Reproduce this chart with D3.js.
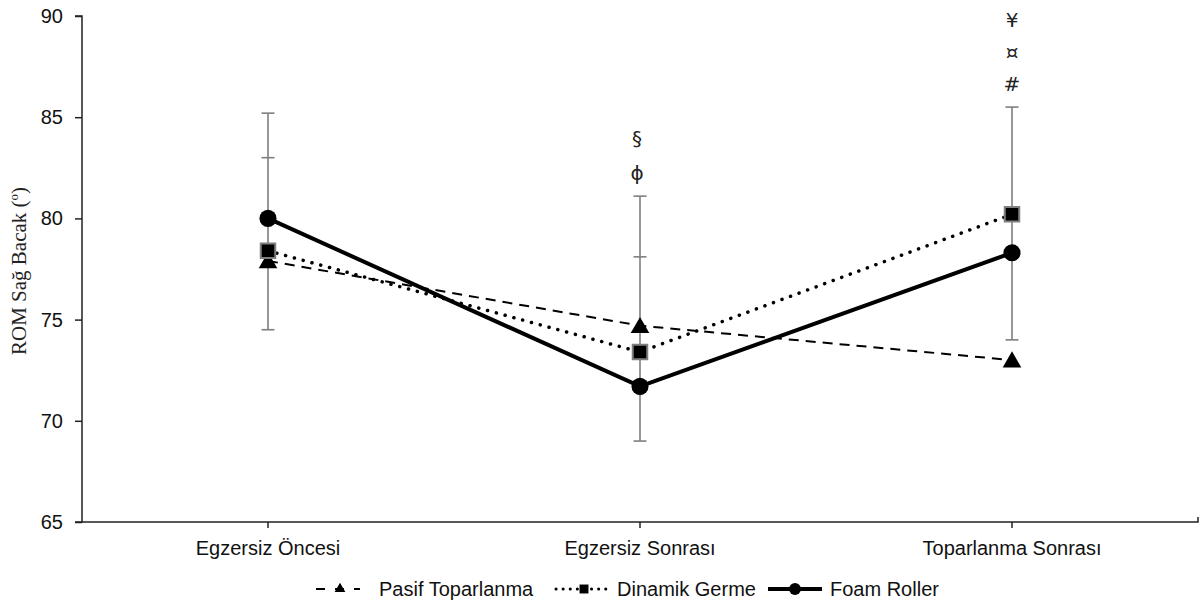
<!DOCTYPE html>
<html><head><meta charset="utf-8">
<script src="https://cdn.jsdelivr.net/npm/d3@7"></script>
<style>body{margin:0;background:#fff}svg{display:block}</style>
</head><body>
<svg id="chart" width="1201" height="605"></svg>
<script>
const categories = ["Egzersiz Öncesi", "Egzersiz Sonrası", "Toparlanma Sonrası"];
const pasif = [77.9, 74.7, 73.0];
const dinamik = [78.4, 73.4, 80.2];
const foam = [80.0, 71.7, 78.3];
const errorCaps = [[85.2, 83.0, 74.5], [81.1, 78.1, 69.0], [85.5, 74.0]];
const annotations = [[], ["§", "ϕ"], ["¥", "¤", "#"]];
const yTicks = [65, 70, 75, 80, 85, 90];
const seriesNames = ["Pasif Toparlanma", "Dinamik Germe", "Foam Roller"];

(function () {
const svg = d3.select("#chart");
const mLeft = 82, mRight = 1198, mTop = 16, mBottom = 522;
const x = d3.scaleBand().domain(categories).range([mLeft, mRight]);
const cx = c => x(c) + x.bandwidth() / 2;
const y = d3.scaleLinear().domain([65, 90]).range([mBottom, mTop]);
const sans = "Liberation Sans, Arial, sans-serif";

// axes
const yAxis = svg.append("g").attr("transform", `translate(${mLeft},0)`)
  .call(d3.axisLeft(y).tickValues(yTicks).tickSize(7).tickPadding(12));
yAxis.select(".domain").attr("stroke", "#222").attr("stroke-width", 1.5).attr("d", `M-7,${mBottom}H0V${mTop}H-7`);
yAxis.selectAll(".tick line").attr("stroke", "#222").attr("stroke-width", 1.5);
yAxis.selectAll(".tick text").attr("font-family", sans).attr("font-size", 20).attr("fill", "#111");

const xAxis = svg.append("g").attr("transform", `translate(0,${mBottom})`)
  .call(d3.axisBottom(x).tickSize(6).tickPadding(13));
xAxis.select(".domain").attr("stroke", "#222").attr("stroke-width", 1.5).attr("d", `M${mLeft},0H${mRight}V-5`);
xAxis.selectAll(".tick line").attr("stroke", "#222").attr("stroke-width", 1.5);
xAxis.selectAll(".tick text").attr("font-family", sans).attr("font-size", 20).attr("fill", "#111");

// y label
svg.append("text")
  .attr("transform", `translate(26,${(mTop + mBottom) / 2 + 2}) rotate(-90)`)
  .attr("text-anchor", "middle")
  .attr("font-family", "Liberation Serif, Times New Roman, serif")
  .attr("font-size", 21).attr("fill", "#222")
  .call(t => {
    t.append("tspan").text("ROM Sağ Bacak (");
    t.append("tspan").attr("font-size", 13).attr("dy", -8).text("o");
    t.append("tspan").attr("dy", 8).text(")");
  });

// error bars
const eb = svg.append("g").attr("stroke", "#7f7f7f").attr("stroke-width", 1.6);
categories.forEach((c, i) => {
  const caps = errorCaps[i];
  eb.append("line").attr("x1", cx(c)).attr("x2", cx(c))
    .attr("y1", y(d3.max(caps))).attr("y2", y(d3.min(caps)));
  caps.forEach(v => eb.append("line").attr("x1", cx(c) - 6.5).attr("x2", cx(c) + 6.5)
    .attr("y1", y(v)).attr("y2", y(v)));
});

// lines
const line = d3.line().x((d, i) => cx(categories[i])).y(d => y(d));
const styles = [
  {data: pasif, w: 2, dash: "10,7", cap: "butt", sym: d3.symbolTriangle, size: 150, lsize: 50},
  {data: dinamik, w: 3.5, dash: "0.1,9", cap: "round", sym: d3.symbolSquare, size: 210, lsize: 80},
  {data: foam, w: 4, dash: null, cap: "butt", sym: d3.symbolCircle, size: 230, lsize: 110}
];
styles.forEach(s => {
  svg.append("path").attr("d", line(s.data)).attr("fill", "none")
    .attr("stroke", "#000").attr("stroke-width", s.w)
    .attr("stroke-dasharray", s.dash).attr("stroke-linecap", s.cap);
});
styles.forEach((s, k) => {
  s.data.forEach((v, i) => {
    svg.append("path").attr("d", d3.symbol(s.sym, s.size)())
      .attr("transform", `translate(${cx(categories[i])},${y(v) + (k === 0 ? 2 : 0)})`)
      .attr("fill", "#000")
      .attr("stroke", k === 1 ? "#808080" : "none").attr("stroke-width", 2);
  });
});

// annotations
const annY = [[], [138, 173], [20, 52, 84]];
categories.forEach((c, i) => {
  annotations[i].forEach((a, j) => {
    svg.append("text").attr("x", cx(c) - (i === 1 ? 3 : 0)).attr("y", annY[i][j])
      .attr("dominant-baseline", "central").attr("text-anchor", "middle")
      .attr("font-family", "DejaVu Sans, sans-serif").attr("font-size", 20).attr("fill", "#222").text(a);
  });
});

// legend
const legY = 589;
const legItems = [{x1: 316, x2: 360, mx: 340, tx: 379}, {x1: 556, x2: 612, mx: 584, tx: 617}, {x1: 768, x2: 822, mx: 795, tx: 830}];
styles.forEach((s, k) => {
  const L = legItems[k];
  svg.append("line").attr("x1", L.x1).attr("x2", L.x2).attr("y1", legY).attr("y2", legY)
    .attr("stroke", "#000").attr("stroke-width", k === 0 ? 2 : (k === 1 ? 3 : 4))
    .attr("stroke-dasharray", k === 0 ? "9,10" : (k === 1 ? "0.1,7" : null))
    .attr("stroke-linecap", k === 1 ? "round" : "butt");
  svg.append("path").attr("d", d3.symbol(s.sym, s.lsize)())
    .attr("transform", `translate(${L.mx},${legY})`).attr("fill", "#000");
  svg.append("text").attr("x", L.tx).attr("y", legY).attr("dominant-baseline", "central")
    .attr("font-family", sans).attr("font-size", 20).attr("fill", "#111")
    .text(seriesNames[k]);
});
})();
</script>
</body></html>
